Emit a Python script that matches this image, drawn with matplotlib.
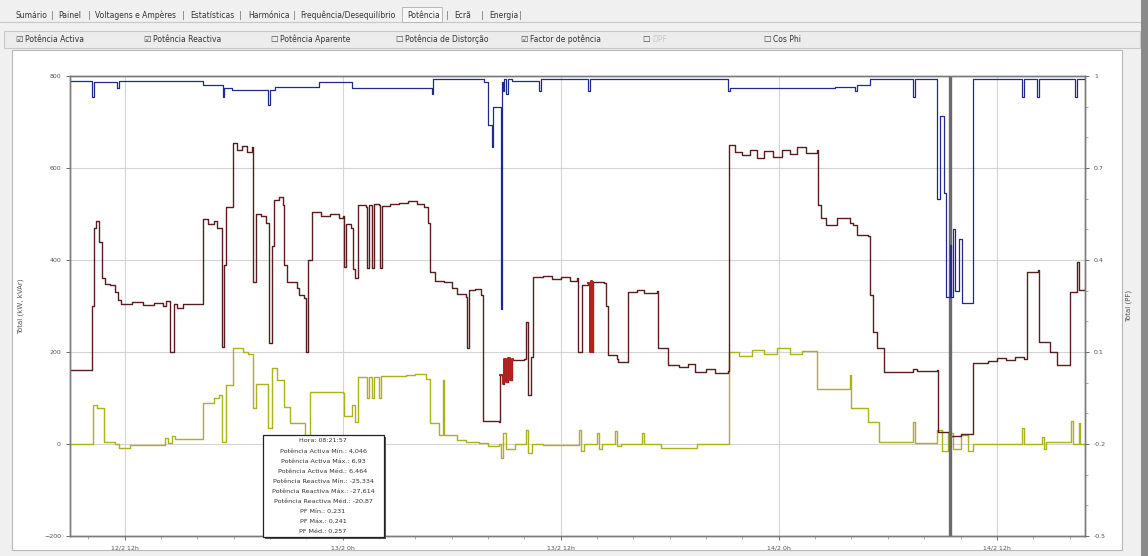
import matplotlib
matplotlib.use('Agg')
import matplotlib.pyplot as plt
from matplotlib.patches import Rectangle
from matplotlib.lines import Line2D
from matplotlib.ticker import AutoMinorLocator

plt.rcParams['font.family'] = ['DejaVu Sans']

W, H = 1148, 556

# time in hours from 12/2 09:00
x_ticks = [3, 15, 27, 39, 51]
x_labels = ['12/2 12h', '13/2 0h', '13/2 12h', '14/2 0h', '14/2 12h']
left_ticks = [-200, 0, 200, 400, 600, 800]
right_ticks = [-0.5, -0.2, 0.1, 0.4, 0.7, 1.0]
right_labels = ['-0.5', '-0.2', '0.1', '0.4', '0.7', '1']

# Potência Activa (kW)
act_t = [0.0, 1.2, 1.3, 1.45, 1.6, 1.75, 1.9, 2.2, 2.45, 2.65, 2.8, 3.4, 4.0, 4.6, 5.1,
         5.3, 5.5, 5.75, 5.9, 6.2, 7.3, 7.6, 7.9, 8.1, 8.35, 8.45, 8.6, 8.95, 9.2, 9.45,
         9.75, 10.0, 10.05, 10.25, 10.5, 10.8, 10.95, 11.1, 11.25, 11.5, 11.7, 11.8, 11.95,
         12.5, 12.6, 12.9, 12.98, 13.1, 13.3, 13.8, 14.3, 14.8, 15.0, 15.05, 15.2, 15.45,
         15.55, 15.7, 15.85, 16.3, 16.35, 16.45, 16.6, 16.7, 17.0, 17.05, 17.15, 17.6, 18.1,
         18.6, 19.1, 19.5, 19.7, 19.8, 20.1, 20.6, 21.0, 21.3, 21.8, 21.85, 21.95, 22.3,
         22.6, 22.75, 23.6, 23.68, 23.8, 23.9, 24.0, 24.1, 24.2, 24.3, 24.4, 25.0, 25.1,
         25.2, 25.35, 25.5, 26.0, 26.5, 27.0, 27.5, 27.9, 27.95, 28.2, 28.5, 28.6, 28.65,
         28.75, 28.8, 29.4, 29.5, 29.6, 30.1, 30.15, 30.7, 31.2, 31.6, 32.3, 32.35, 32.9,
         33.5, 34.0, 34.4, 35.0, 35.5, 36.2, 36.27, 36.6, 37.0, 37.4, 37.8, 38.2, 38.7,
         39.2, 39.6, 40.0, 40.5, 41.1, 41.15, 41.3, 41.6, 42.2, 42.9, 43.1, 43.3, 43.9,
         44.0, 44.2, 44.4, 44.8, 46.4, 46.6, 47.7, 47.75, 48.4, 49.0, 49.7, 50.5, 51.0,
         51.5, 52.0, 52.5, 52.65, 53.25, 53.3, 53.9, 54.3, 55.05, 55.4, 55.5, 55.85]
act_v = [160, 300, 470, 485, 440, 360, 348, 345, 330, 312, 305, 308, 303, 306, 300,
         310, 200, 305, 295, 305, 490, 478, 485, 470, 210, 390, 515, 655, 640, 648,
         635, 645, 352, 500, 495, 480, 220, 430, 530, 538, 520, 390, 352,
         340, 324, 318, 200, 400, 505, 495, 500, 492, 496, 385, 478, 470,
         380, 360, 520, 515, 383, 520, 383, 522, 520, 383, 518, 522, 525,
         528, 522, 515, 480, 375, 355, 352, 340, 326, 320, 209, 335, 338,
         325, 50, 48, 150, 130, 185, 135, 188, 140, 185, 183, 185, 265,
         107, 190, 363, 365, 358, 362, 355, 360, 200, 345, 350, 200, 355,
         200, 352, 350, 300, 193, 185, 178, 330, 335, 328, 332, 209, 172,
         168, 175, 157, 162, 155, 158, 650, 635, 628, 640, 622, 638, 625,
         640, 630, 645, 632, 640, 520, 491, 476, 492, 480, 476, 455, 452,
         324, 243, 209, 157, 162, 158, 160, 26, 18, 22, 176, 180, 188,
         182, 190, 185, 374, 378, 222, 200, 172, 330, 395, 335, 335]

# Potência Reactiva (kVAr)
rea_t = [0.0, 1.25, 1.5, 1.85, 2.5, 2.7, 3.3, 4.8, 5.2, 5.4, 5.6, 5.8, 7.3, 7.9, 8.2,
         8.35, 8.6, 8.95, 9.5, 9.8, 10.05, 10.25, 10.9, 11.1, 11.4, 11.8, 12.1, 12.95,
         13.2, 15.0, 15.1, 15.5, 15.7, 15.85, 16.35, 16.45, 16.6, 16.7, 17.0, 17.1, 18.5,
         19.0, 19.6, 19.8, 20.3, 20.5, 20.6, 21.3, 21.8, 22.5, 23.0, 23.6, 23.7, 23.8,
         24.0, 24.5, 25.1, 25.2, 25.4, 26.0, 28.0, 28.1, 28.3, 29.0, 29.1, 29.3, 30.0,
         30.1, 30.3, 31.5, 31.6, 32.5, 34.5, 36.27, 36.8, 37.5, 38.2, 38.9, 39.6, 40.3,
         41.1, 42.9, 43.0, 43.9, 44.5, 46.4, 46.5, 47.7, 48.0, 48.3, 48.6, 49.0, 49.4,
         49.7, 52.4, 52.5, 53.5, 53.6, 53.7, 55.1, 55.2, 55.5, 55.6, 55.85]
rea_v = [0, 85, 78, 5, 0, -8, -3, -2, 12, 3, 18, 10, 90, 100, 107,
         5, 128, 208, 200, 195, 78, 130, 35, 165, 140, 80, 46, 0,
         113, 110, 60, 85, 48, 146, 100, 145, 100, 146, 100, 148, 150,
         152, 142, 46, 20, 140, 20, 8, 5, 2, -5, 0, -30, 25,
         -10, 0, 30, -20, 0, -3, 30, -15, 0, 25, -10, 0, 28,
         -5, 0, 25, 0, -8, 0, 200, 192, 205, 195, 208, 196, 203,
         120, 150, 78, 48, 5, 48, 2, 30, -15, 25, -10, 20, -15,
         0, 35, 0, 15, -10, 5, 50, 0, 45, 0, 0]

# Factor de potência
pf_t = [0.0, 1.2, 1.3, 2.6, 2.7, 7.3, 8.4, 8.5, 8.9, 10.9, 11.0, 11.3, 13.7, 15.5,
        19.9, 20.0, 22.8, 23.0, 23.2, 23.3, 23.7, 23.75, 23.8, 23.9, 24.0, 24.1, 24.3,
        25.8, 25.9, 28.5, 28.6, 36.2, 36.3, 42.1, 43.2, 43.3, 44.0, 46.4, 46.5, 47.7,
        47.85, 48.1, 48.2, 48.4, 48.5, 48.6, 48.7, 48.9, 49.1, 49.7, 52.4, 52.5, 53.2,
        53.3, 55.3, 55.4, 55.85]
pf_v = [0.985, 0.93, 0.98, 0.96, 0.985, 0.97, 0.93, 0.96, 0.955, 0.905, 0.955, 0.965,
        0.98, 0.96, 0.94, 0.99, 0.98, 0.84, 0.77, 0.90, 0.24, 0.98, 0.95, 0.99, 0.94,
        0.99, 0.985, 0.95, 0.99, 0.95, 0.99, 0.95, 0.96, 0.965, 0.95, 0.97, 0.99,
        0.93, 0.99, 0.60, 0.87, 0.62, 0.28, 0.45, 0.28, 0.50, 0.30, 0.47, 0.26,
        0.99, 0.93, 0.99, 0.93, 0.99, 0.93, 0.99, 0.99]

cursor_t = 48.43

# stretches of the active power trace that the software shows in bright red
red_spans = [(23.68, 24.4), (28.5, 28.8)]

tooltip = ['Hora: 08:21:57',
           'Potência Activa Mín.: 4,046',
           'Potência Activa Máx.: 6,93',
           'Potência Activa Méd.: 6,464',
           'Potência Reactiva Mín.: -25,334',
           'Potência Reactiva Máx.: -27,614',
           'Potência Reactiva Méd.: -20,87',
           'PF Mín.: 0,231',
           'PF Máx.: 0,241',
           'PF Méd.: 0,257']

tabs = [('Sumário', 15), ('Painel', 58), ('Voltagens e Ampères', 95),
        ('Estatísticas', 190), ('Harmónica', 248), ('Frequência/Desequilíbrio', 300),
        ('Potência', 407), ('Ecrã', 454), ('Energia', 489)]
checks = [('Potência Activa', 15, True), ('Potência Reactiva', 143, True),
          ('Potência Aparente', 270, False), ('Potência de Distorção', 395, False),
          ('Factor de potência', 520, True), ('DPF', 642, False), ('Cos Phi', 763, False)]


def fx(px):
    return px / W


def fy(py):
    return 1 - py / H


fig = plt.figure(figsize=(W / 100, H / 100), dpi=100, facecolor='#f0f0f0')

# window chrome (kept below the axes)
fig.add_artist(Line2D([0, fx(1140)], [fy(22), fy(22)], color='#c8c8c8', lw=0.8, zorder=-5))
fig.add_artist(Rectangle((fx(4), fy(48)), fx(1136), 17 / H, facecolor='#ececec',
                         edgecolor='#c8c8c8', lw=0.8, zorder=-5))
fig.add_artist(Rectangle((fx(12), fy(550)), fx(1110), 500 / H, facecolor='white',
                         edgecolor='#b8b8b8', lw=0.8, zorder=-5))
fig.add_artist(Rectangle((fx(1141), 0), fx(7), 1, facecolor='#8a8a8a', edgecolor='none',
                         zorder=-5))
fig.add_artist(Rectangle((fx(402), fy(22)), fx(40), 15 / H, facecolor='#f7f7f7',
                         edgecolor='#b0b0b0', lw=0.6, zorder=-5))

for name, px in tabs:
    fig.text(fx(px), fy(15), name, fontsize=5.5, color='#333333', ha='left', va='center')
seps = [52, 89, 183, 240, 294, 447, 482, 520]
for px in seps:
    fig.text(fx(px), fy(15), '|', fontsize=6, color='#777777', ha='center', va='center')

for name, px, on in checks:
    fig.text(fx(px), fy(39), '☑' if on else '☐', fontsize=6, color='#444444',
             ha='left', va='center')
    fig.text(fx(px + 10), fy(39), name, fontsize=5.5,
             color='#c8c8c8' if name == 'DPF' else '#333333', ha='left', va='center')

ax = fig.add_axes([fx(70), fy(536), fx(1015), 460 / H])
ax.set_facecolor('white')
ax.set_xlim(0, 55.85)
ax.set_ylim(-200, 800)
ax.set_xticks(x_ticks)
ax.set_xticklabels(x_labels)
ax.set_yticks(left_ticks)
ax.xaxis.set_minor_locator(AutoMinorLocator(6))
ax.grid(True, which='major', color='#d4d4d4', lw=0.8)
ax.set_axisbelow(True)

ax.plot(act_t, act_v, drawstyle='steps-post', color='#5a1c1c', lw=1.0, zorder=3)
for t0, t1 in red_spans:
    idx = [i for i, t in enumerate(act_t) if t0 <= t <= t1]
    ax.plot([act_t[i] for i in idx], [act_v[i] for i in idx], drawstyle='steps-post',
            color='#b3201e', lw=1.4, zorder=4)
ax.plot(rea_t, rea_v, drawstyle='steps-post', color='#acb21c', lw=1.0, zorder=2)
ax.axvline(cursor_t, color='#6a6a6a', lw=2.4, zorder=6)

ax2 = ax.twinx()
ax2.set_ylim(-0.5, 1.0)
ax2.set_yticks(right_ticks)
ax2.set_yticklabels(right_labels)
ax2.yaxis.set_minor_locator(AutoMinorLocator(3))
ax2.plot(pf_t, pf_v, drawstyle='steps-post', color='#1f2a8c', lw=0.9)

for a in (ax, ax2):
    for s in a.spines.values():
        s.set_color('#7a7a7a')
        s.set_linewidth(1.0)
    a.tick_params(labelsize=4.5, colors='#555555', length=3, width=0.6)
    a.tick_params(which='minor', length=2, width=0.5, colors='#888888')

ax.set_ylabel('Total (kW, kVAr)', fontsize=5, color='#555555', labelpad=14)
ax2.set_ylabel('Total (PF)', fontsize=5, color='#555555', labelpad=14, rotation=90)

# tooltip box
fig.add_artist(Rectangle((fx(265), fy(539)), fx(121), 102 / H, facecolor='#555555',
                         edgecolor='none', zorder=9))
fig.add_artist(Rectangle((fx(263), fy(537)), fx(121), 102 / H, facecolor='white',
                         edgecolor='#222222', lw=0.9, zorder=10))
for i, line in enumerate(tooltip):
    fig.text(fx(323), fy(441 + i * 10), line, fontsize=4.6, color='#333333',
             ha='center', va='center', zorder=11)

plt.savefig('out.png', dpi=100, facecolor=fig.get_facecolor())
